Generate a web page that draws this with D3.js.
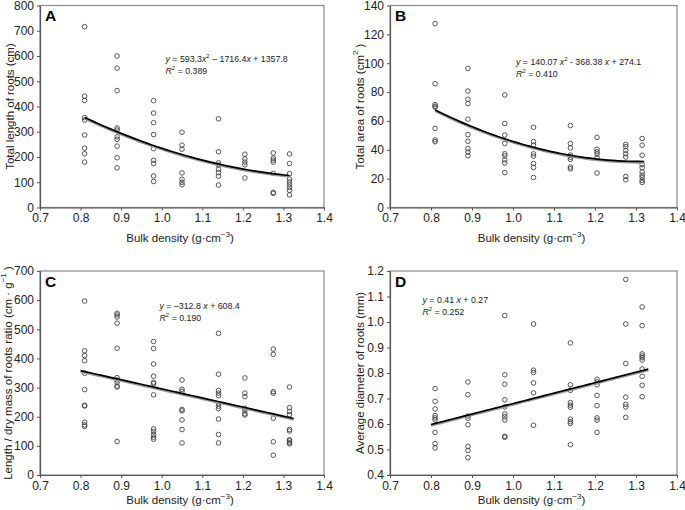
<!DOCTYPE html>
<html>
<head>
<meta charset="utf-8">
<script src="https://cdn.jsdelivr.net/npm/d3@7"></script>
<style>
  html, body { margin: 0; padding: 0; background: #fff; }
  svg { display: block; font-family: "Liberation Sans", Arial, sans-serif; }
</style>
</head>
<body>
<svg id="chart" width="685" height="510"></svg>
<script>
// ---------------- DATA ----------------
const bulkDensity = [0.81, 0.89, 0.98, 1.05, 1.14, 1.205, 1.275, 1.315];
const xTicks = [0.7, 0.8, 0.9, 1.0, 1.1, 1.2, 1.3, 1.4];

// A: total length of roots (cm)
const lengthA = [
  [716, 441, 424, 356, 346, 287, 235, 213, 180],
  [600, 552, 463, 315, 307, 280, 270, 243, 197, 157],
  [423, 374, 336, 289, 233, 187, 174, 125, 103],
  [298, 247, 231, 137, 112, 100, 90],
  [351, 221, 177, 168, 152, 138, 124, 89],
  [211, 192, 180, 169, 117],
  [216, 196, 188, 180, 135, 60, 56],
  [212, 174, 134, 113, 101, 90, 80, 68, 50]
];
// B: total area of roots (cm2)
const areaB = [
  [127.4, 85.8, 71.3, 70.2, 69.5, 54.8, 46.8, 45.6],
  [96.4, 80.7, 75.0, 72.0, 61.2, 50.5, 45.9, 40.8, 38.4, 35.9],
  [78.0, 58.2, 50.2, 44.4, 37.2, 35.8, 33.0, 30.9, 24.2],
  [55.6, 45.7, 43.2, 37.2, 35.6, 30.5, 27.8, 20.8],
  [56.8, 44.3, 41.3, 36.3, 34.8, 33.4, 28.0, 26.8],
  [48.6, 40.4, 38.6, 37.0, 34.5, 23.9],
  [43.8, 42.2, 39.5, 37.2, 35.0, 21.5, 19.2],
  [47.8, 43.2, 36.2, 29.7, 27.6, 24.6, 22.4, 20.8, 18.8, 17.4]
];
// C: length / dry mass of roots ratio (cm g-1)
const ratioC = [
  [597, 426, 410, 392, 349, 293, 239, 237, 181, 172, 167],
  [555, 549, 542, 521, 435, 334, 326, 318, 305, 302, 115],
  [458, 434, 381, 339, 318, 313, 275, 158, 149, 139, 130, 123],
  [326, 294, 287, 225, 220, 189, 156, 110],
  [486, 346, 290, 281, 272, 244, 236, 228, 192, 139, 110],
  [333, 281, 269, 229, 221, 210, 206],
  [432, 414, 286, 281, 195, 114, 68],
  [302, 231, 218, 207, 156, 151, 121, 117, 111, 107]
];
// D: average diameter of roots (mm)
const diameterD = [
  [0.739, 0.689, 0.659, 0.633, 0.624, 0.616, 0.567, 0.523, 0.506],
  [0.765, 0.715, 0.631, 0.622, 0.597, 0.512, 0.496, 0.468],
  [1.025, 0.793, 0.756, 0.695, 0.667, 0.639, 0.628, 0.616, 0.552, 0.548],
  [0.992, 0.811, 0.802, 0.761, 0.722, 0.595],
  [0.918, 0.754, 0.732, 0.684, 0.674, 0.666, 0.619, 0.609, 0.602, 0.519],
  [0.775, 0.765, 0.754, 0.712, 0.672, 0.624, 0.615, 0.567],
  [1.167, 0.992, 0.837, 0.705, 0.677, 0.667, 0.626],
  [1.059, 0.986, 0.875, 0.867, 0.860, 0.851, 0.816, 0.787, 0.752, 0.707]
];

// fitted equations shown on each panel (coefficients of x^2, x, 1)
const fitA = [593.3, -1716.4, 1357.8];
const fitB = [140.07, -368.38, 274.1];
const fitC = [0, -312.8, 608.4];
const fitD = [0, 0.41, 0.27];
const fitRangeA = [0.81, 1.315];
const fitRangeB = [0.81, 1.32];
const fitRangeC = [0.80, 1.325];
const fitRangeD = [0.80, 1.33];

const yTicksA = [0, 100, 200, 300, 400, 500, 600, 700, 800];
const yTicksB = [0, 20, 40, 60, 80, 100, 120, 140];
const yTicksC = [0, 100, 200, 300, 400, 500, 600, 700];
const yTicksD = [0.4, 0.5, 0.6, 0.7, 0.8, 0.9, 1.0, 1.1, 1.2];

// ---------------- DRAWING ----------------
const svg = d3.select("#chart");

const panels = [
  { id: "A", data: lengthA, fit: fitA, range: fitRangeA, yTicks: yTicksA, yFmt: d3.format("d"),
    box: { x0: 40, x1: 324, y0: 5.5, y1: 207.5 }, xty: 242,
    ytitle: [{ t: "Total length of roots (cm)" }], ytx: 10,
    eq: { x: 165.5, y: 61.5, parts: [["y", "i"], [" = 593.3", ""], ["x", "i"], ["2", "s"], [" \u2013 1716.4", ""], ["x", "i"], [" + 1357.8", ""]] },
    r2: "0.389" },
  { id: "B", data: areaB, fit: fitB, range: fitRangeB, yTicks: yTicksB, yFmt: d3.format("d"),
    box: { x0: 390, x1: 677, y0: 5.5, y1: 207.5 }, xty: 242,
    ytitle: [{ t: "Total area of roots (cm" }, { t: "2", s: 1 }, { t: " )" }], ytx: 360,
    eq: { x: 516, y: 64.5, parts: [["y", "i"], [" = 140.07 ", ""], ["x", "i"], ["2", "s"], [" - 368.38 ", ""], ["x", "i"], [" + 274.1", ""]] },
    r2: "0.410" },
  { id: "C", data: ratioC, fit: fitC, range: fitRangeC, yTicks: yTicksC, yFmt: d3.format("d"),
    box: { x0: 40, x1: 324, y0: 271, y1: 475 }, xty: 504,
    ytitle: [{ t: "Length / dry mass of roots ratio (cm \u00b7 g" }, { t: "\u22121", s: 1 }, { t: " )" }], ytx: 8,
    eq: { x: 159.5, y: 308.5, parts: [["y", "i"], [" = \u2013312.8 ", ""], ["x", "i"], [" + 608.4", ""]] },
    r2: "0.190" },
  { id: "D", data: diameterD, fit: fitD, range: fitRangeD, yTicks: yTicksD, yFmt: d3.format(".1f"),
    box: { x0: 390, x1: 677, y0: 271, y1: 475 }, xty: 504,
    ytitle: [{ t: "Average diameter of roots (mm)" }], ytx: 360,
    eq: { x: 422.5, y: 302.5, parts: [["y", "i"], [" = 0.41 ", ""], ["x", "i"], [" + 0.27", ""]] },
    r2: "0.252" }
];

panels.forEach(p => {
  const b = p.box;
  const x = d3.scaleLinear().domain([0.7, 1.4]).range([b.x0, b.x1]);
  const y = d3.scaleLinear().domain([p.yTicks[0], p.yTicks[p.yTicks.length - 1]]).range([b.y1, b.y0]);
  const g = svg.append("g");

  // frame (top/right lighter gray)
  g.append("rect").attr("x", b.x0).attr("y", b.y0)
    .attr("width", b.x1 - b.x0).attr("height", b.y1 - b.y0)
    .attr("fill", "none").attr("stroke", "#8a8a8a").attr("stroke-width", 1.2);

  // axes
  const xa = g.append("g").attr("transform", `translate(0,${b.y1})`)
    .call(d3.axisBottom(x).tickValues(xTicks).tickFormat(d3.format(".1f")).tickSize(3).tickSizeOuter(0).tickPadding(3));
  const ya = g.append("g").attr("transform", `translate(${b.x0},0)`)
    .call(d3.axisLeft(y).tickValues(p.yTicks).tickFormat(p.yFmt).tickSize(3).tickSizeOuter(0).tickPadding(3));
  [xa, ya].forEach(a => {
    a.select(".domain").attr("stroke", "#555").attr("stroke-width", 1.2);
    a.selectAll(".tick line").attr("stroke", "#555");
    a.selectAll(".tick text").attr("fill", "#222").style("font-size", "12px").style("font-family", '"Liberation Sans", Arial, sans-serif');
  });

  // x title
  const xt = g.append("text").attr("x", (b.x0 + b.x1) / 2 - 2).attr("y", p.xty)
    .attr("text-anchor", "middle").attr("fill", "#222").style("font-size", "11.5px");
  xt.append("tspan").text("Bulk density (g\u00b7cm");
  xt.append("tspan").text("\u22123").attr("dy", -5).style("font-size", "8px");
  xt.append("tspan").text(")").attr("dy", 5);

  // y title
  const yt = g.append("text")
    .attr("transform", `translate(${p.ytx},${(b.y0 + b.y1) / 2}) rotate(-90)`)
    .attr("text-anchor", "middle").attr("dominant-baseline", "central")
    .attr("fill", "#222").style("font-size", "11.5px");
  let shifted = false;
  p.ytitle.forEach(part => {
    const ts = yt.append("tspan").text(part.t);
    if (part.s) { ts.attr("dy", -5).style("font-size", "8px"); shifted = true; }
    else if (shifted) { ts.attr("dy", 5); shifted = false; }
  });

  // panel letter
  g.append("text").attr("x", b.x0 + 5).attr("y", b.y0 + 15.5)
    .style("font-size", "15.5px").style("font-weight", "bold").attr("fill", "#000").text(p.id);

  // equation
  const eq = g.append("text").attr("x", p.eq.x).attr("y", p.eq.y)
    .style("font-size", "8.8px").attr("fill", "#222");
  let sup = false;
  p.eq.parts.forEach(([t, k]) => {
    const ts = eq.append("tspan").text(t);
    if (k === "i") ts.style("font-style", "italic");
    if (k === "s") { ts.attr("dy", -3.5).style("font-size", "6px"); sup = true; }
    else if (sup) { ts.attr("dy", 3.5); sup = false; }
  });
  const r2 = g.append("text").attr("x", p.eq.x).attr("y", p.eq.y + 12)
    .style("font-size", "8.8px").attr("fill", "#222");
  r2.append("tspan").text("R").style("font-style", "italic");
  r2.append("tspan").text("2").attr("dy", -3.5).style("font-size", "6px");
  r2.append("tspan").text(" = " + p.r2).attr("dy", 3.5);

  // points
  const pts = [];
  p.data.forEach((vals, i) => vals.forEach(v => pts.push([bulkDensity[i], v])));
  g.append("g").selectAll("circle").data(pts).join("circle")
    .attr("cx", d => x(d[0])).attr("cy", d => y(d[1])).attr("r", 2.3)
    .attr("fill", "none").attr("stroke", "#444").attr("stroke-width", 0.9);

  // fitted curve
  const f = p.fit;
  const xs = d3.range(0, 41).map(k => p.range[0] + (p.range[1] - p.range[0]) * k / 40);
  const line = d3.line().x(d => x(d)).y(d => y(f[0] * d * d + f[1] * d + f[2]));
  g.append("path").datum(xs).attr("d", line).attr("fill", "none")
    .attr("stroke", "#9a9a9a").attr("stroke-width", 2.4).attr("transform", "translate(0,1)");
  g.append("path").datum(xs).attr("d", line).attr("fill", "none")
    .attr("stroke", "#000").attr("stroke-width", 1.7);
});
</script>
</body>
</html>
